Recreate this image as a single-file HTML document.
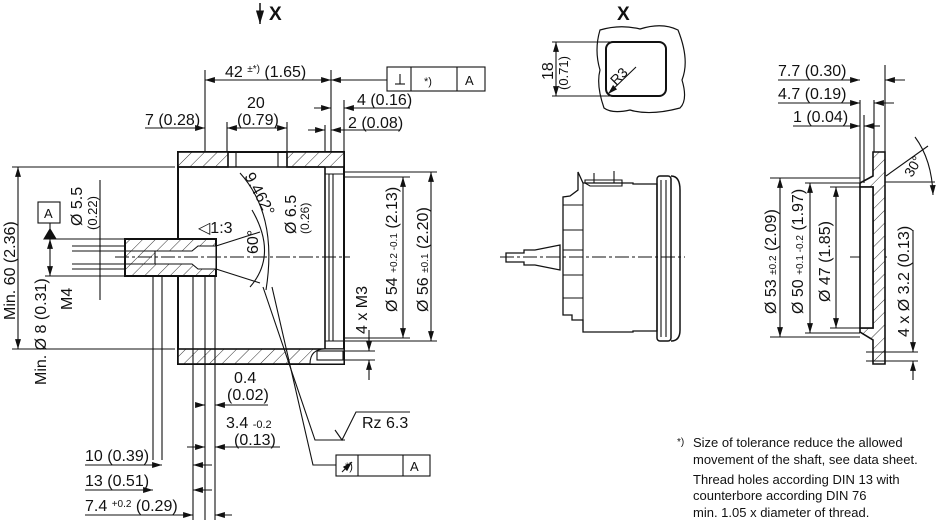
<!DOCTYPE html>
<html><head><meta charset="utf-8"><style>
html,body{margin:0;padding:0;background:#fff;}
svg{display:block;font-family:"Liberation Sans",sans-serif;}
text{fill:#111;}
</style></head><body>
<svg width="940" height="524" viewBox="0 0 940 524" xmlns="http://www.w3.org/2000/svg">
<defs>
<pattern id="h" width="9" height="9" patternUnits="userSpaceOnUse" patternTransform="rotate(45)">
<rect width="9" height="9" fill="#fff"/><line x1="0" y1="0" x2="0" y2="9" stroke="#333" stroke-width="1"/></pattern>
<marker id="a" viewBox="0 0 10 10" refX="10" refY="5" markerWidth="9" markerHeight="9" orient="auto-start-reverse"><path d="M0,2 L10,5 L0,8z" fill="#111"/></marker>
</defs>
<g stroke="#111" stroke-width="1.1" fill="none">
<line x1="260" y1="3" x2="260" y2="24" marker-end="url(#a)" stroke-width="1.5"/>
<rect x="178" y="152" width="166" height="212" stroke-width="2"/>
<rect x="178" y="152" width="50" height="15" fill="url(#h)" stroke-width="1.6"/>
<rect x="287" y="152" width="57" height="15" fill="url(#h)" stroke-width="1.6"/>
<line x1="228" y1="152" x2="228" y2="167"/><line x1="236" y1="152" x2="236" y2="167"/>
<line x1="278" y1="152" x2="278" y2="167"/><line x1="287" y1="152" x2="287" y2="167"/>
<line x1="178" y1="167" x2="325" y2="167" stroke-width="1.6"/>
<line x1="325" y1="167" x2="325" y2="349" stroke-width="1.6"/>
<line x1="329" y1="174" x2="329" y2="341"/><line x1="333" y1="174" x2="333" y2="341"/>
<line x1="325" y1="174" x2="344" y2="174"/><line x1="325" y1="341" x2="344" y2="341"/>
<rect x="178" y="349" width="166" height="15" fill="url(#h)" stroke-width="1.6"/>
<path d="M310,364 Q310,349 325,349 L344,349 L344,364z" fill="#fff"/>
<rect x="317" y="351" width="26" height="9" fill="#fff"/>
<rect x="125" y="239" width="91" height="37" fill="url(#h)" stroke-width="2"/>
<path d="M155,251 L192,251 L198,246 L216,246 L216,269 L198,269 L192,264 L155,264z" fill="#fff"/>
<path d="M216,246 L260,232 M216,269 L260,283" />
<line x1="115" y1="257" x2="350" y2="257" stroke-dasharray="14,3,3,3"/>
<line x1="500" y1="257" x2="685" y2="257" stroke-dasharray="14,3,3,3"/>
<line x1="850" y1="257" x2="890" y2="257" stroke-dasharray="14,3,3,3"/>
<path d="M240,173 Q278,215 266,290" />
<path d="M252,210 Q278,255 250,287"/>
<line x1="153" y1="276" x2="153" y2="460"/><line x1="162" y1="276" x2="162" y2="460"/>
<line x1="193" y1="276" x2="193" y2="520"/><line x1="205" y1="276" x2="205" y2="520"/><line x1="215" y1="276" x2="215" y2="520"/>
<polyline points="263,287 315,440 345,440"/>
<polyline points="272,287 313,465 336,465"/>
<path d="M335,430 L342,440 L356,412 L410,412"/>
<rect x="336" y="455" width="94" height="21" fill="#fff"/><line x1="358" y1="455" x2="358" y2="476"/><line x1="403" y1="455" x2="403" y2="476"/>
<line x1="342" y1="472" x2="352" y2="462" marker-end="url(#a)"/>
<line x1="205" y1="70" x2="205" y2="152"/><line x1="331" y1="70" x2="331" y2="152"/>
<line x1="205" y1="80" x2="331" y2="80" marker-start="url(#a)" marker-end="url(#a)"/>
<line x1="331" y1="80" x2="387" y2="80" marker-start="url(#a)"/>
<rect x="387" y="67" width="98" height="24"/><line x1="411" y1="67" x2="411" y2="91"/><line x1="457" y1="67" x2="457" y2="91"/>
<line x1="395" y1="84" x2="405" y2="84"/><line x1="400" y1="74" x2="400" y2="84"/>
<line x1="145" y1="128" x2="205" y2="128" marker-end="url(#a)"/>
<line x1="227" y1="128" x2="287" y2="128" marker-start="url(#a)" marker-end="url(#a)"/>
<line x1="227" y1="122" x2="227" y2="152"/><line x1="287" y1="122" x2="287" y2="152"/>
<line x1="314" y1="108" x2="331" y2="108" marker-end="url(#a)"/><line x1="344" y1="108" x2="410" y2="108" marker-start="url(#a)"/>
<line x1="344" y1="100" x2="344" y2="152"/><line x1="325" y1="125" x2="325" y2="152"/>
<line x1="308" y1="130" x2="325" y2="130" marker-end="url(#a)"/><line x1="331" y1="130" x2="400" y2="130" marker-start="url(#a)"/>
<line x1="12" y1="167" x2="175" y2="167"/><line x1="12" y1="349" x2="175" y2="349"/>
<line x1="18" y1="167" x2="18" y2="349" marker-start="url(#a)" marker-end="url(#a)"/>
<line x1="45" y1="239" x2="125" y2="239"/><line x1="45" y1="276" x2="125" y2="276"/>
<line x1="50" y1="239" x2="50" y2="276" marker-start="url(#a)" marker-end="url(#a)"/>
<path d="M44,239 L50,229 L56,239z" fill="#111"/><line x1="50" y1="223" x2="50" y2="229"/>
<rect x="38" y="202" width="22" height="21"/>
<line x1="72" y1="251" x2="155" y2="251"/><line x1="72" y1="264" x2="155" y2="264"/>
<line x1="72" y1="246" x2="125" y2="246"/><line x1="72" y1="269" x2="125" y2="269"/>
<line x1="100" y1="180" x2="100" y2="300"/>
<line x1="345" y1="172" x2="437" y2="172"/><line x1="345" y1="341" x2="437" y2="341"/>
<line x1="431" y1="172" x2="431" y2="341" marker-start="url(#a)" marker-end="url(#a)"/>
<line x1="345" y1="177" x2="410" y2="177"/><line x1="345" y1="338" x2="410" y2="338"/>
<line x1="403" y1="177" x2="403" y2="338" marker-start="url(#a)" marker-end="url(#a)"/>
<line x1="369" y1="330" x2="369" y2="351" marker-end="url(#a)"/><line x1="369" y1="360" x2="369" y2="380" marker-start="url(#a)"/>
<line x1="345" y1="351" x2="375" y2="351"/><line x1="345" y1="360" x2="375" y2="360"/>
<line x1="196" y1="405" x2="205" y2="405" marker-end="url(#a)"/><line x1="215" y1="405" x2="268" y2="405" marker-start="url(#a)"/>
<line x1="187" y1="447" x2="205" y2="447" marker-end="url(#a)"/><line x1="215" y1="447" x2="280" y2="447" marker-start="url(#a)"/>
<line x1="85" y1="465" x2="162" y2="465" marker-end="url(#a)"/><line x1="193" y1="465" x2="212" y2="465" marker-start="url(#a)"/>
<line x1="85" y1="490" x2="153" y2="490" marker-end="url(#a)"/><line x1="193" y1="490" x2="212" y2="490" marker-start="url(#a)"/>
<line x1="85" y1="515" x2="193" y2="515" marker-end="url(#a)"/><line x1="215" y1="515" x2="232" y2="515" marker-start="url(#a)"/>
<path d="M600,30 Q620,24 640,29 Q662,22 678,30 Q690,60 682,80 Q688,100 680,108 Q650,116 630,110 Q612,114 604,108 Q596,85 600,70 Q594,50 600,30z" stroke-width="1.2"/>
<rect x="606" y="42" width="60" height="54" rx="7" stroke-width="2"/>
<line x1="552" y1="42" x2="612" y2="42"/><line x1="552" y1="96" x2="612" y2="96"/>
<line x1="556" y1="42" x2="556" y2="96" marker-start="url(#a)" marker-end="url(#a)"/>
<line x1="636" y1="67" x2="608" y2="94" marker-end="url(#a)"/>
<path d="M506,253 L524,253 L524,250 L535,250 L560,245 L560,270 L535,265 L524,265 L524,262 L506,262z" stroke-width="1.3"/>
<path d="M578,172 L578,190 L570,196 L563,197 L563,315 L572,315 L572,320 L583,320 L583,330 L583,332 L633,332 L633,331 L657,331 L657,184 L633,184 L633,183 L583,183z" stroke-width="1.3"/>
<path d="M583,183 L583,330"/><line x1="563" y1="205" x2="583" y2="205"/><line x1="563" y1="230" x2="583" y2="230"/>
<line x1="563" y1="250" x2="583" y2="250"/><line x1="563" y1="275" x2="583" y2="275"/><line x1="563" y1="298" x2="583" y2="298"/>
<path d="M585,183 L590,186 L622,186 L622,180 L585,180z"/>
<line x1="594" y1="173" x2="594" y2="183"/><line x1="614" y1="171" x2="614" y2="183"/>
<rect x="657" y="176" width="14" height="165" rx="3" stroke-width="1.5"/>
<path d="M671,176 Q680,176 680,190 L680,330 Q680,341 671,341" stroke-width="1.5"/>
<line x1="661" y1="180" x2="661" y2="337"/><line x1="666" y1="180" x2="666" y2="337"/>
<!-- right view -->
<path d="M873,152 L885,152 L885,364 L873,364 L873,340 L860,332 L860,328 L873,328 L873,187 L860,187 L860,183 L873,176z" fill="url(#h)" stroke-width="1.6"/>
<rect x="860" y="187" width="13" height="141" fill="#fff" stroke-width="1.6"/>
<line x1="860" y1="100" x2="860" y2="183"/><line x1="864" y1="115" x2="864" y2="183"/><line x1="874" y1="100" x2="874" y2="152"/><line x1="885" y1="65" x2="885" y2="152"/>
<line x1="778" y1="80" x2="860" y2="80" marker-end="url(#a)"/><line x1="885" y1="80" x2="905" y2="80" marker-start="url(#a)"/>
<line x1="778" y1="103" x2="860" y2="103" marker-end="url(#a)"/><line x1="874" y1="103" x2="894" y2="103" marker-start="url(#a)"/>
<line x1="793" y1="126" x2="860" y2="126" marker-end="url(#a)"/><line x1="864" y1="126" x2="880" y2="126" marker-start="url(#a)"/>
<line x1="770" y1="178" x2="860" y2="178"/><line x1="770" y1="337" x2="860" y2="337"/>
<line x1="780" y1="178" x2="780" y2="337" marker-start="url(#a)" marker-end="url(#a)"/>
<line x1="805" y1="183" x2="860" y2="183"/><line x1="805" y1="333" x2="860" y2="333"/>
<line x1="810" y1="183" x2="810" y2="333" marker-start="url(#a)" marker-end="url(#a)"/>
<line x1="830" y1="187" x2="860" y2="187"/><line x1="830" y1="328" x2="860" y2="328"/>
<line x1="836" y1="187" x2="836" y2="328" marker-start="url(#a)" marker-end="url(#a)"/>
<line x1="885" y1="182" x2="935" y2="182"/><line x1="886" y1="176" x2="928" y2="146"/>
<path d="M915,137 Q932,160 933,195" marker-end="url(#a)"/>
<line x1="866" y1="352" x2="918" y2="352"/><line x1="866" y1="361" x2="918" y2="361"/>
<line x1="913" y1="230" x2="913" y2="352" marker-end="url(#a)"/><line x1="913" y1="361" x2="913" y2="380" marker-start="url(#a)"/>
</g>
<g font-size="16">
<text x="269" y="20" font-weight="bold" font-size="19">X</text>
<text x="617" y="20" font-weight="bold" font-size="19">X</text>
<text x="225" y="77">42 <tspan font-size="10" dy="-5">±*)</tspan><tspan dy="5"> (1.65)</tspan></text>
<text x="424" y="85" font-size="11">*)</text><text x="465" y="85" font-size="13">A</text>
<text x="247" y="108">20</text><text x="237" y="125">(0.79)</text>
<text x="145" y="125">7 (0.28)</text>
<text x="357" y="105">4 (0.16)</text><text x="348" y="128">2 (0.08)</text>
<text x="44" y="218" font-size="13">A</text>
<text x="198" y="233">◁1:3</text>
<text x="345" y="470" font-size="11">*)</text><text x="410" y="471" font-size="13">A</text>
<text x="362" y="428">Rz 6.3</text>
<text x="234" y="383">0.4</text><text x="227" y="400">(0.02)</text>
<text x="226" y="428">3.4 <tspan font-size="11">-0.2</tspan></text><text x="234" y="445">(0.13)</text>
<text x="85" y="461">10 (0.39)</text><text x="85" y="486">13 (0.51)</text>
<text x="85" y="511">7.4 <tspan font-size="10" dy="-4">+0.2</tspan><tspan dy="4"> (0.29)</tspan></text>
<text transform="translate(15,320) rotate(-90)">Min. 60 (2.36)</text>
<text transform="translate(46,385) rotate(-90)">Min. Ø 8 (0.31)</text>
<text transform="translate(82,226) rotate(-90)">Ø 5.5</text>
<text transform="translate(97,230) rotate(-90)" font-size="13">(0.22)</text>
<text transform="translate(72,310) rotate(-90)">M4</text>
<text transform="translate(296,234) rotate(-90)">Ø 6.5</text>
<text transform="translate(309,234) rotate(-90)" font-size="12">(0.26)</text>
<text transform="translate(258,254) rotate(-90)">60°</text>
<text transform="translate(244,176) rotate(62)">9.462°</text>
<text transform="translate(397,312) rotate(-90)">Ø 54 <tspan font-size="10">+0.2 -0.1</tspan> (2.13)</text>
<text transform="translate(428,312) rotate(-90)">Ø 56 <tspan font-size="10">±0.1</tspan> (2.20)</text>
<text transform="translate(367,334) rotate(-90)">4 x M3</text>
<text transform="translate(553,80) rotate(-90)">18</text>
<text transform="translate(568,90) rotate(-90)" font-size="13">(0.71)</text>
<text transform="translate(616,86) rotate(-45)" font-size="14">R3</text>
<text x="778" y="76">7.7 (0.30)</text><text x="778" y="99">4.7 (0.19)</text><text x="793" y="122">1 (0.04)</text>
<text transform="translate(776,314) rotate(-90)">Ø 53 <tspan font-size="10">±0.2</tspan> (2.09)</text>
<text transform="translate(803,314) rotate(-90)">Ø 50 <tspan font-size="10">+0.1 -0.2</tspan> (1.97)</text>
<text transform="translate(830,302) rotate(-90)">Ø 47 (1.85)</text>
<text transform="translate(909,337) rotate(-90)">4 x Ø 3.2 (0.13)</text>
<text transform="translate(912,178) rotate(-60)" font-size="14">30°</text>
</g>
<g font-size="13">
<text x="677" y="445" font-size="10">*)</text>
<text x="693" y="447">Size of tolerance reduce the allowed</text>
<text x="693" y="464">movement of the shaft, see data sheet.</text>
<text x="693" y="484">Thread holes according DIN 13 with</text>
<text x="693" y="500">counterbore according DIN 76</text>
<text x="693" y="517">min. 1.05 x diameter of thread.</text>
</g>
</svg>
</body></html>
